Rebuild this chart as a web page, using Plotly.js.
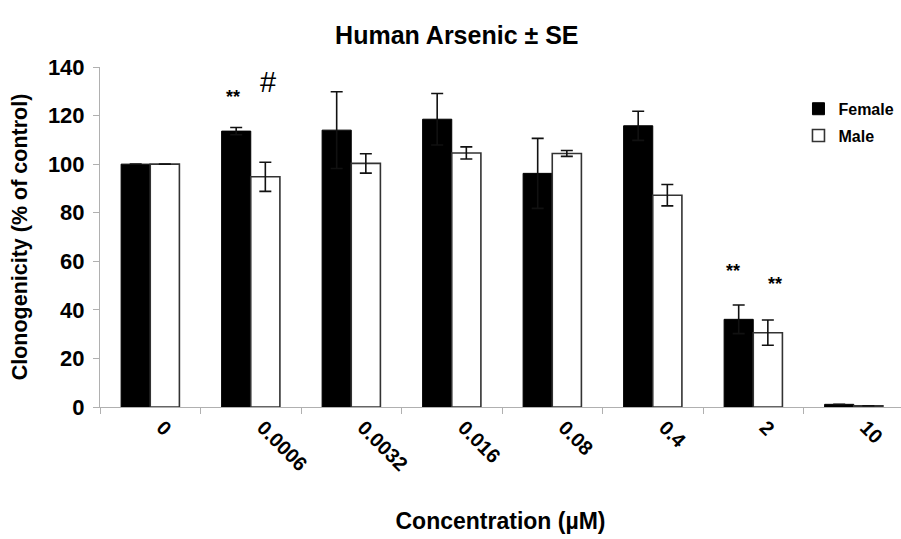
<!DOCTYPE html>
<html>
<head>
<meta charset="utf-8">
<script src="https://cdn.plot.ly/plotly-3.0.1.min.js"></script>
<style>
  html, body { margin: 0; padding: 0; background: #fff; }
  #chart { width: 901px; height: 539px; }
</style>
</head>
<body>
<div id="chart"></div>
<script>
// Arsenic concentrations (µM)
const concentrations = ['0', '0.0006', '0.0032', '0.016', '0.08', '0.4', '2', '10'];

// Clonogenicity, % of control
const femaleMean = [100, 113.6, 114, 118.5, 96.2, 115.8, 36.1, 1.1];
const femaleSE   = [0, 1.5, 15.8, 10.6, 14.4, 6.0, 5.9, 0];
const maleMean   = [100, 94.8, 100.3, 104.6, 104.4, 87.2, 30.6, 0.5];
const maleSE     = [0, 6.0, 4.0, 2.5, 1.2, 4.4, 5.2, 0];

// Significance markers: [category, y value, x offset in px, text, size, bold]
const marks = [
  ['0.0006', 127.5, -18, '**', 18, true],
  ['0.0006', 134, 17, '#', 29, false],
  ['2', 56, -20, '**', 18, true],
  ['2', 50.5, 22, '**', 18, true]
];

const font = 'Liberation Sans, Arial, sans-serif';

const female = {
  type: 'bar', name: 'Female', x: concentrations, y: femaleMean,
  legendgroup: 'f',
  marker: { color: '#000000', line: { color: '#000000', width: 1 } },
  error_y: { type: 'data', array: femaleSE, visible: true, color: '#111', thickness: 1.6, width: 6 }
};
const male = {
  type: 'bar', name: 'Male', x: concentrations, y: maleMean,
  legendgroup: 'm',
  marker: { color: '#ffffff', line: { color: '#333333', width: 1.6 } },
  error_y: { type: 'data', array: maleSE, visible: true, color: '#111', thickness: 1.6, width: 6 }
};

// category axes place annotations by category index
const annotations = marks.map(m => ({
  x: concentrations.indexOf(m[0]), y: m[1], xref: 'x', yref: 'y', xshift: m[2],
  text: m[5] ? '<b>' + m[3] + '</b>' : m[3],
  showarrow: false,
  font: { family: font, size: m[4], color: '#000' }
}));

const layout = {
  width: 901, height: 539,
  margin: { l: 100, r: 0, t: 67, b: 132 },
  paper_bgcolor: '#fff', plot_bgcolor: '#fff',
  barmode: 'group', bargap: 0.42, bargroupgap: 0,
  showlegend: true,
  title: {
    text: '<b>Human Arsenic ± SE</b>',
    font: { family: font, size: 25, color: '#000' },
    x: 0.507, xref: 'container', y: 0.935, yref: 'container', xanchor: 'center', yanchor: 'middle'
  },
  legend: {
    x: 0.872, y: 0.927, xanchor: 'left', yanchor: 'top',
    traceorder: 'grouped', tracegroupgap: 3,
    font: { family: font, size: 16, color: '#000', weight: 'bold' },
    bgcolor: 'rgba(0,0,0,0)'
  },
  xaxis: {
    type: 'category', range: [-0.5, 7.47],
    showline: true, linecolor: '#b0b0b0', linewidth: 1,
    ticks: 'outside', tickson: 'boundaries', ticklen: 6, tickcolor: '#b0b0b0',
    tickangle: 45, ticklabelshift: 12,
    tickfont: { family: font, size: 20, color: '#000', weight: 'bold' },
    showgrid: false, zeroline: false,
    title: { text: '<b>Concentration (µM)</b>', font: { family: font, size: 23, color: '#000' }, standoff: 38 }
  },
  yaxis: {
    range: [0, 140], dtick: 20,
    showline: true, linecolor: '#b0b0b0', linewidth: 1,
    ticks: 'outside', ticklen: 6, tickcolor: '#b0b0b0',
    ticklabelstandoff: 4,
    tickfont: { family: font, size: 22, color: '#000', weight: 'bold' },
    showgrid: false, zeroline: false,
    title: { text: '<b>Clonogenicity (% of control)</b>', font: { family: font, size: 21.5, color: '#000' }, standoff: 14 }
  },
  annotations: annotations
};

Plotly.newPlot('chart', [female, male], layout, { displayModeBar: false, staticPlot: true });
</script>
</body>
</html>
